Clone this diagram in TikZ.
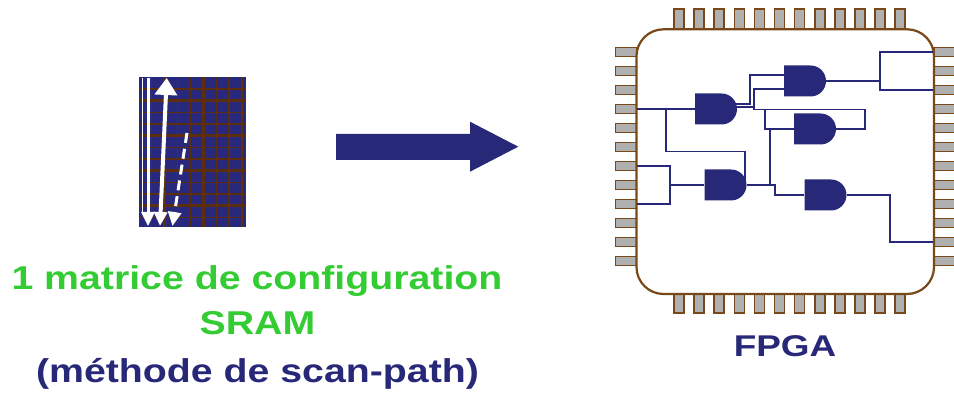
\documentclass[tikz,border=0pt]{standalone}
\usepackage{fontspec}
\setmainfont{Liberation Sans}
\usepackage{graphicx}
\usetikzlibrary{arrows.meta,shapes.misc,calc}
\definecolor{navy}{RGB}{40,40,120}
\definecolor{grn}{RGB}{51,204,51}
\definecolor{chipbrown}{RGB}{120,72,24}
\definecolor{pingray}{RGB}{176,176,176}
\definecolor{gridbrown}{RGB}{92,46,12}
\definecolor{cellblue}{RGB}{40,40,125}
\pgfdeclarelayer{package}
\pgfdeclarelayer{wires}
\pgfsetlayers{package,wires,main}

\begin{document}
\begin{tikzpicture}[x=1pt,y=-1pt,
  gate/.style={rounded rectangle, rounded rectangle left arc=none, fill=navy,
    minimum width=42pt, minimum height=31pt, inner sep=0pt},
  wire/.style={navy, line width=1.4pt},
  pin/.style={draw=chipbrown, fill=pingray, line width=1.6pt, inner sep=0pt},
  hpin/.style={pin, minimum width=21pt, minimum height=9pt},
  vpin/.style={pin, minimum width=10pt, minimum height=20pt},
  label/.style={anchor=base, font=\bfseries\fontsize{33}{36}\selectfont},
  scanline/.style={white, line width=3pt},
  scantip/.style={-{Triangle[width=13pt,length=14pt]}}
]
\useasboundingbox (0,0) rectangle (954,411);

% ---------- configuration memory ----------
\node[fill=cellblue, minimum width=107pt, minimum height=150pt, inner sep=0pt] (sram) at (192.5,152) {};
\foreach \k in {1,...,8} {
  \pgfmathsetmacro{\gx}{139+12.85*\k}
  \pgfmathtruncatemacro{\m}{mod(\k,3)}
  \ifnum\m=2
    \draw[gridbrown, line width=2.6pt] (\gx,77) -- (\gx,227);
  \else
    \draw[gridbrown, line width=1.2pt] (\gx,77) -- (\gx,227);
  \fi
}
\foreach \k in {1,...,12} {
  \pgfmathsetmacro{\gy}{77.3+11.67*\k}
  \pgfmathtruncatemacro{\m}{mod(\k,3)}
  \ifnum\m=2
    \draw[gridbrown, line width=2.6pt] (139,\gy) -- (246,\gy);
  \else
    \draw[gridbrown, line width=1.2pt] (139,\gy) -- (246,\gy);
  \fi
}
% scan path
\draw[white, line width=1.6pt] (142.5,78) -- (142.5,212);
\draw[scanline, scantip] (148,78) -- (148,226);
\draw[scanline, line width=4pt, {Triangle[width=22pt,length=17pt]}-{Triangle[width=13pt,length=14pt]}] (166.7,78) -- (160,226);
\draw[scanline, dash pattern=on 10pt off 6pt, scantip] (187,133) -- (172.5,226);

% ---------- big arrow ----------
\fill[navy] (336,134) -- (470,134) -- (470,121.7) -- (518.3,146.7) -- (470,171.7) -- (470,160) -- (336,160) -- cycle;

% ---------- FPGA package ----------
\begin{pgfonlayer}{package}
\foreach \i in {0,...,11} {
  \node[vpin] (pT\i) at (679+20.1*\i,19.3) {};
  \node[vpin] (pB\i) at (679+20.1*\i,303) {};
}
\foreach \i in {1,...,12} {
  \node[hpin] (pL\i) at (626,33+19*\i) {};
  \node[hpin] (pR\i) at (944.5,33+19*\i) {};
}
\node[draw=chipbrown, line width=2.2pt, fill=white, rounded corners=27pt,
      minimum width=297.5pt, minimum height=264.7pt, inner sep=0pt] (chip) at (785.25,161.65) {};
\end{pgfonlayer}

% gates
\node[gate] (A) at (716,109) {};
\node[gate] (B) at (805,81) {};
\node[gate] (C) at (815,129) {};
\node[gate] (D) at (725.5,185) {};
\node[gate] (E) at (825.5,195) {};

% wiring, kept under the gates
\begin{pgfonlayer}{wires}
\draw[wire] (pL4.east) -- (A.west);
\draw[wire] (666,109) |- (745,151.7) -- (745,182);
\draw[wire] ($(A.east)+(-4,-5)$) -| (750,75) -- ($(B.west)+(0,-6)$);
\draw[wire] ($(A.east)+(-4,-2)$) -| (754,89) -- ($(B.west)+(0,8)$);
\draw[wire] (754,89) |- (865,109.3) |- (C.east);
\draw[wire] (765,109.3) |- (C.west);
\draw[wire] (770,129) -- (770,185);
\draw[wire] (D.east) -| (775,195) -- (E.west);
\draw[wire] (E.east) -| (890,242) -- (pR11.west);
\draw[wire] (B.east) -- (880,81);
\draw[wire] (pR1.west) -| (880,90) -- (pR3.west);
\draw[wire] (pL7.east) -| (670,204) -- (pL9.east);
\draw[wire] (670,185) -- (D.west);
\end{pgfonlayer}

% ---------- captions ----------
\node[label, text=grn] (cap1) at (257,289.3) {\scalebox{1.19}[1]{1 matrice de configuration}};
\node[label, text=grn] (cap2) at (257.5,335) {\scalebox{1.19}[1]{SRAM}};
\node[label, text=navy] (cap3) at (257.5,383) {\scalebox{1.19}[1]{(méthode de scan-path)}};
\node[label, text=navy, font=\bfseries\fontsize{30}{33}\selectfont] (cap4) at (785,356.7) {\scalebox{1.23}[1]{FPGA}};
\end{tikzpicture}
\end{document}
